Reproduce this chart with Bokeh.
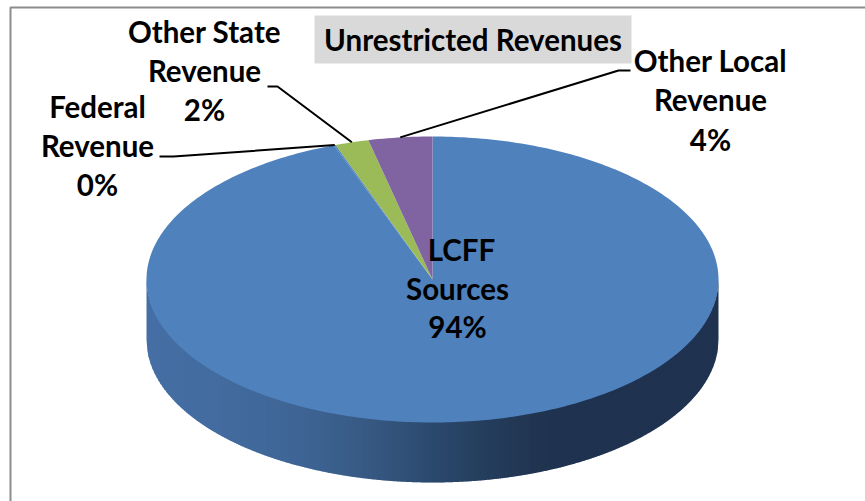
import numpy as np
from bokeh.core.properties import value
from bokeh.embed import file_html
from bokeh.models import Range1d
from bokeh.plotting import figure
from bokeh.resources import INLINE

# Data (clockwise from 12 o'clock)
categories = ["LCFF Sources", "Federal Revenue", "Other State Revenue", "Other Local Revenue"]
shares = [94.4, 0.1, 1.9, 3.6]
slice_colors = ["#4f81bd", "#4f81bd", "#9bbb59", "#8064a2"]
title_text = "Unrestricted Revenues"
label_lines = [["LCFF", "Sources", "94%"], ["Federal", "Revenue", "0%"],
               ["Other State", "Revenue", "2%"], ["Other Local", "Revenue", "4%"]]

W, H = 865, 501
CX, CY, RX, RY, DEPTH = 432.0, 279.0, 286.0, 143.0, 60.0
FONT = "Lato"
FS = "29.5px"

p = figure(width=W, height=H, output_backend="svg", toolbar_location=None,
           x_range=Range1d(0, W), y_range=Range1d(H, 0), min_border=0,
           outline_line_color=None, background_fill_color="white",
           border_fill_color="white",
           styles={"position": "absolute", "left": "0px", "top": "0px"})
p.axis.visible = False
p.grid.visible = False


def rim(frac):
    t = 2 * np.pi * np.asarray(frac)
    return CX + RX * np.sin(t), CY - RY * np.cos(t)


# chart frame
p.line([W, 10, 10], [7, 7, H], line_color="#8c8c8c", line_width=2)

# side wall: horizontal shading in narrow strips
stops_x = [146, 220, 300, 350, 400, 430, 480, 530, 560, 718]
stops_r = [0x45, 0x43, 0x3f, 0x3a, 0x32, 0x2c, 0x26, 0x21, 0x1f, 0x1f]
stops_g = [0x70, 0x6c, 0x65, 0x5d, 0x52, 0x4a, 0x3f, 0x36, 0x33, 0x33]
stops_b = [0xa5, 0x9f, 0x95, 0x88, 0x79, 0x6e, 0x5f, 0x52, 0x50, 0x50]
edges = np.arange(CX - RX, CX + RX + 0.01, 2.0)
xs, ys, cols = [], [], []
for a, b in zip(edges[:-1], edges[1:]):
    b2 = min(b + 0.7, CX + RX)
    xx = np.linspace(a, b2, 4)
    low = CY + RY * np.sqrt(np.clip(1 - ((xx - CX) / RX) ** 2, 0, 1))
    xs.append(list(xx) + list(xx[::-1]))
    ys.append(list(low + DEPTH) + list(low[::-1] - 1))
    m = (a + b) / 2
    cols.append("#%02x%02x%02x" % (int(np.interp(m, stops_x, stops_r)),
                                   int(np.interp(m, stops_x, stops_g)),
                                   int(np.interp(m, stops_x, stops_b))))
p.patches(xs, ys, fill_color=cols, line_color=None)

# top face slices
cum = np.concatenate([[0], np.cumsum(shares)]) / sum(shares)
sx, sy = [], []
for i in range(len(shares)):
    n = max(3, int(400 * (cum[i + 1] - cum[i])))
    rx, ry = rim(np.linspace(cum[i], cum[i + 1], n))
    sx.append([CX] + list(rx))
    sy.append([CY] + list(ry))
p.patches(sx, sy, fill_color=slice_colors, line_color=None)

# leader lines end at the middle of their slice's rim
mid = (cum[:-1] + cum[1:]) / 2
elbows = {1: [(159, 156), (173, 156)], 2: [(267, 86), (277, 86)], 3: [(630, 70), (618, 70)]}
for i, pts in elbows.items():
    ex, ey = rim(mid[i])
    p.line([q[0] for q in pts] + [float(ex)], [q[1] for q in pts] + [float(ey)],
           line_color="#000000", line_width=2)

# title box
p.quad(left=[314], right=[631], top=[15], bottom=[63], fill_color="#d9d9d9", line_color=None)
p.text([472.5], [39], text=[title_text], text_font=value(FONT), text_font_style="bold",
       text_font_size=FS, text_align="center", text_baseline="middle", text_color="#000000")

# data labels
anchors = [(457, 249), (97, 105.5), (204, 30.5), (710, 59.5)]
steps = [38.5, 39, 39, 39.5]
lx, ly, lt = [], [], []
for (ax, ay), st, lines in zip(anchors, steps, label_lines):
    for j, t in enumerate(lines):
        lx.append(ax + (4 if t == "LCFF" else 0))
        ly.append(ay + j * st)
        lt.append(t)
p.text(lx, ly, text=lt, text_font=value(FONT), text_font_style="bold", text_font_size=FS,
       text_align="center", text_baseline="middle", text_color="#000000")

open("out.html", "w").write(file_html(p, INLINE))
